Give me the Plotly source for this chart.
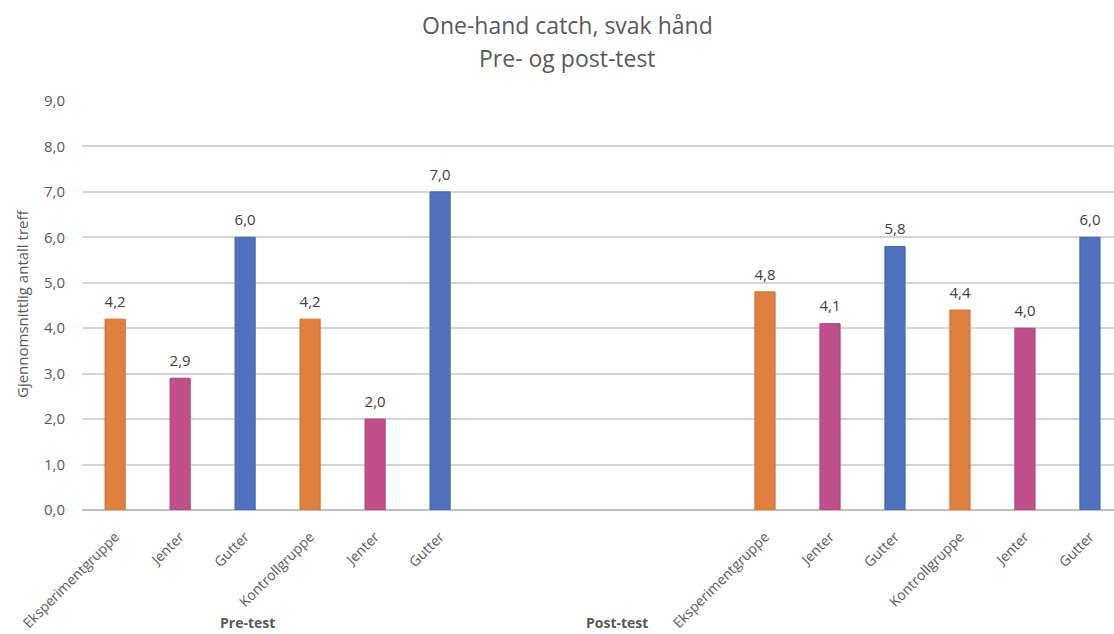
import plotly.graph_objects as go

# Category slots along the x axis (empty slots separate the two test rounds)
tick_labels = ["Eksperimentgruppe", "Jenter", "Gutter", "Kontrollgruppe", "Jenter", "Gutter",
               "", "", "", "",
               "Eksperimentgruppe", "Jenter", "Gutter", "Kontrollgruppe", "Jenter", "Gutter"]
bar_slots = [0, 1, 2, 3, 4, 5, 10, 11, 12, 13, 14, 15]
bar_values = [4.2, 2.9, 6.0, 4.2, 2.0, 7.0, 4.8, 4.1, 5.8, 4.4, 4.0, 6.0]
bar_kind = ["gruppe", "jenter", "gutter", "gruppe", "jenter", "gutter",
            "gruppe", "jenter", "gutter", "gruppe", "jenter", "gutter"]
group_labels = ["Pre-test", "Post-test"]
group_label_pos = [2.03, 7.72]
y_ticks = [0, 1, 2, 3, 4, 5, 6, 7, 8, 9]

kind_colors = {"gruppe": "#E0803F", "jenter": "#C1508A", "gutter": "#4F71BE"}
kind_lines = {"gruppe": "#C96F33", "jenter": "#A9437A", "gutter": "#4262AA"}

FONT = "Open Sans"
GREY = "#595959"

fig = go.Figure()

fig.add_trace(go.Bar(
    x=bar_slots,
    y=bar_values,
    width=0.31,
    marker=dict(color=[kind_colors[k] for k in bar_kind],
                line=dict(color=[kind_lines[k] for k in bar_kind], width=1)),
    hoverinfo="skip",
))

# value labels above each bar
fig.add_trace(go.Scatter(
    x=bar_slots,
    y=bar_values,
    mode="markers+text",
    marker=dict(size=12, opacity=0),
    text=[f"{v:.1f}".replace(".", ",") for v in bar_values],
    textposition="top center",
    textfont=dict(family=FONT, size=15, color="#404040"),
    cliponaxis=False,
    hoverinfo="skip",
))

fig.update_layout(
    width=1114, height=634,
    margin=dict(l=82, r=0, t=101, b=124),
    paper_bgcolor="white", plot_bgcolor="white",
    showlegend=False,
    separators=", ",
    font=dict(family=FONT, color=GREY),
)

fig.update_xaxes(
    range=[-0.51, 15.37],
    tickmode="array",
    tickvals=list(range(len(tick_labels))),
    ticktext=tick_labels,
    tickangle=-45,
    tickfont=dict(family=FONT, size=14, color=GREY),
    showgrid=False,
    showline=False,
    zeroline=False,
    ticks="",
    ticklabelstandoff=15,
)

fig.update_yaxes(
    range=[0, 9],
    tickmode="array",
    tickvals=y_ticks,
    tickformat=".1f",
    tickfont=dict(family=FONT, size=15, color=GREY),
    showgrid=True, gridcolor="#D4D4D4", gridwidth=1.5,
    zeroline=True, zerolinecolor="#BFBFBF", zerolinewidth=2,
    ticklabelstandoff=16,
    ticks="",
)

# chart title lines
fig.add_annotation(text="One-hand catch, svak hånd", xref="paper", yref="paper",
                   x=(567 - 82) / 1032, y=1 + (101 - 25) / 409, showarrow=False,
                   font=dict(family=FONT, size=23, color=GREY), xanchor="center", yanchor="middle")
fig.add_annotation(text="Pre- og post-test", xref="paper", yref="paper",
                   x=(567 - 82) / 1032, y=1 + (101 - 58) / 409, showarrow=False,
                   font=dict(family=FONT, size=23, color=GREY), xanchor="center", yanchor="middle")

# y axis title
fig.add_annotation(text="Gjennomsnittlig antall treff", xref="paper", yref="paper",
                   x=(22 - 82) / 1032, y=(510 - 304) / 409, textangle=-90, showarrow=False,
                   font=dict(family=FONT, size=15, color=GREY), xanchor="center", yanchor="middle")

# group labels under the category labels
for lab, pos in zip(group_labels, group_label_pos):
    fig.add_annotation(text=f"<b>{lab}</b>", xref="x", yref="paper",
                       x=pos, y=-(622 - 510) / 409, showarrow=False,
                       font=dict(family=FONT, size=14, color=GREY),
                       xanchor="center", yanchor="middle")

fig.write_html("out.html")
